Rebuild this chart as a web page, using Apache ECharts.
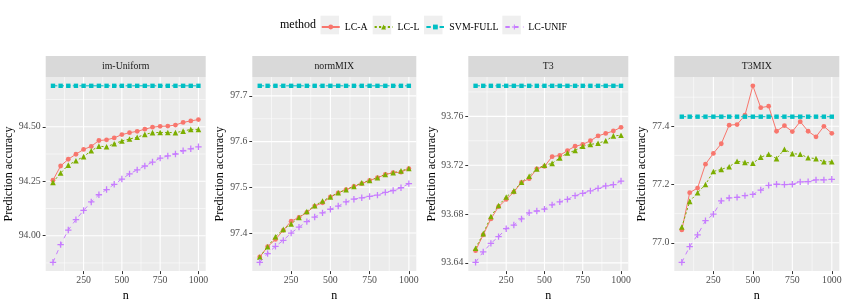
<!DOCTYPE html>
<html><head><meta charset="utf-8">
<script src="https://cdn.jsdelivr.net/npm/echarts@6/dist/echarts.min.js"></script>
<style>html,body{margin:0;padding:0;background:#fff}#c{width:845px;height:307px}</style>
</head><body><div id="c"></div>
<script>
// ---------- data ----------
const nValues = [50,100,150,200,250,300,350,400,450,500,550,600,650,700,750,800,850,900,950,1000];
const methods = ['LC-A','LC-L','SVM-FULL','LC-UNIF'];
const panelNames = ['im-Uniform','normMIX','T3','T3MIX'];

const imUniformLCA  = [94.255,94.320,94.351,94.374,94.396,94.410,94.437,94.440,94.449,94.464,94.473,94.479,94.489,94.498,94.502,94.503,94.508,94.520,94.527,94.533];
const imUniformLCL  = [94.245,94.288,94.324,94.344,94.363,94.390,94.411,94.408,94.422,94.435,94.444,94.452,94.465,94.473,94.474,94.474,94.473,94.480,94.488,94.488];
const imUniformSVM  = [94.688,94.688,94.688,94.688,94.688,94.688,94.688,94.688,94.688,94.688,94.688,94.688,94.688,94.688,94.688,94.688,94.688,94.688,94.688,94.688];
const imUniformUNIF = [93.878,93.959,94.026,94.074,94.116,94.155,94.188,94.212,94.236,94.260,94.284,94.302,94.320,94.338,94.356,94.366,94.375,94.390,94.399,94.408];

const normMIXLCA  = [97.3475,97.370,97.386,97.406,97.426,97.434,97.445,97.459,97.466,97.479,97.488,97.495,97.502,97.508,97.515,97.521,97.528,97.532,97.533,97.541];
const normMIXLCL  = [97.3475,97.370,97.392,97.408,97.420,97.434,97.447,97.460,97.470,97.479,97.488,97.495,97.502,97.510,97.515,97.521,97.528,97.532,97.536,97.541];
const normMIXSVM  = [97.722,97.722,97.722,97.722,97.722,97.722,97.722,97.722,97.722,97.722,97.722,97.722,97.722,97.722,97.722,97.722,97.722,97.722,97.722,97.722];
const normMIXUNIF = [97.336,97.355,97.371,97.384,97.400,97.413,97.425,97.435,97.444,97.452,97.459,97.468,97.474,97.477,97.480,97.483,97.489,97.493,97.499,97.508];

const T3LCA  = [93.650,93.663,93.676,93.686,93.692,93.698,93.706,93.709,93.717,93.719,93.727,93.728,93.732,93.7355,93.737,93.740,93.744,93.746,93.748,93.751];
const T3LCL  = [93.652,93.664,93.678,93.687,93.694,93.699,93.706,93.711,93.717,93.720,93.7215,93.726,93.730,93.732,93.7355,93.737,93.738,93.740,93.744,93.7445];
const T3SVM  = [93.785,93.785,93.785,93.785,93.785,93.785,93.785,93.785,93.785,93.785,93.785,93.785,93.785,93.785,93.785,93.785,93.785,93.785,93.785,93.785];
const T3UNIF = [93.6405,93.649,93.656,93.6615,93.668,93.671,93.676,93.681,93.6825,93.684,93.6875,93.690,93.692,93.695,93.697,93.699,93.701,93.703,93.704,93.707];

const T3MIXLCA  = [77.044,77.172,77.188,77.270,77.307,77.340,77.404,77.406,77.438,77.539,77.464,77.469,77.383,77.402,77.382,77.416,77.383,77.364,77.400,77.376];
const T3MIXLCL  = [77.054,77.142,77.172,77.200,77.245,77.252,77.261,77.280,77.276,77.273,77.294,77.304,77.289,77.321,77.306,77.304,77.292,77.289,77.278,77.278];
const T3MIXSVM  = [77.433,77.433,77.433,77.433,77.433,77.433,77.433,77.433,77.433,77.433,77.433,77.433,77.433,77.433,77.433,77.433,77.433,77.433,77.433,77.433];
const T3MIXUNIF = [76.933,76.987,77.027,77.076,77.098,77.144,77.154,77.156,77.162,77.166,77.181,77.197,77.201,77.200,77.201,77.209,77.210,77.216,77.216,77.218];

// tick labels / grid breaks
const xTicks = [250,500,750,1000];
const xMinor = [125,375,625,875];
const imUniformYTicks = [94.00,94.25,94.50];
const imUniformYMinor = [93.875,94.125,94.375,94.625];
const normMIXYTicks = [97.4,97.5,97.6,97.7];
const normMIXYMinor = [97.35,97.45,97.55,97.65];
const T3YTicks = [93.64,93.68,93.72,93.76];
const T3YMinor = [93.66,93.70,93.74,93.78];
const T3MIXYTicks = [77.0,77.2,77.4];
const T3MIXYMinor = [77.1,77.3,77.5];

// ---------- assembly ----------
const panelSeries = [
  [imUniformLCA, imUniformLCL, imUniformSVM, imUniformUNIF],
  [normMIXLCA, normMIXLCL, normMIXSVM, normMIXUNIF],
  [T3LCA, T3LCL, T3SVM, T3UNIF],
  [T3MIXLCA, T3MIXLCL, T3MIXSVM, T3MIXUNIF]
];
const panelYTicks = [imUniformYTicks, normMIXYTicks, T3YTicks, T3MIXYTicks];
const panelYMinor = [imUniformYMinor, normMIXYMinor, T3YMinor, T3MIXYMinor];
const panelDigits = [2,1,2,1];

// layout (pixels)
const FONT = 'Liberation Serif';
const gridLeft = [45.7, 252.3, 468.3, 674.3];
const gridWidth = [160, 164, 160, 165];
const gridTop = 77, gridHeight = 197.3;
const stripTop = 56, stripHeight = 21;
const nameGaps = [27, 21.5, 28, 23];

const colors = ['#F8766D','#7CAE00','#00BFC4','#C77CFF'];
const dashes = ['solid',[2.2,2.2],[4.4,2.2],[4.4,4.4]];
const plusPath = 'path://M4,0H6V4H10V6H6V10H4V6H0V4H4Z';
const symbols = ['circle','triangle','rect',plusPath];
const symbolSizes = [4.8,5.6,4.4,6.4];

function expand(arr){ const lo=Math.min(...arr), hi=Math.max(...arr), d=(hi-lo)*0.05; return [lo-d, hi+d]; }
// reference (grid) lines expressed in data units, separated by gaps
function hLines(vals, xr){ const out=[]; vals.forEach(v=>{out.push([xr[0],v],[xr[1],v],null);}); return out; }
function vLines(vals, yr){ const out=[]; vals.forEach(v=>{out.push([v,yr[0]],[v,yr[1]],null);}); return out; }

const grids=[], xAxes=[], yAxes=[], series=[], graphics=[];
const xr = expand(nValues);
for (let p=0;p<4;p++){
  grids.push({left:gridLeft[p], top:gridTop, width:gridWidth[p], height:gridHeight, show:true, backgroundColor:'#EBEBEB', borderWidth:0});
  const yr = expand([].concat(...panelSeries[p]));
  const d = panelDigits[p];
  xAxes.push({type:'value', gridIndex:p, min:xr[0], max:xr[1],
    name:'n', nameLocation:'middle', nameGap:15, nameTextStyle:{fontFamily:FONT,fontSize:12,color:'#000'},
    axisLine:{show:false}, splitLine:{show:false},
    axisTick:{show:true, customValues:xTicks, length:3, lineStyle:{color:'#333',width:1}},
    axisLabel:{customValues:xTicks, margin:4, fontFamily:FONT, fontSize:9.8, color:'#4D4D4D', formatter:v=>String(v)}});
  yAxes.push({type:'value', gridIndex:p, min:yr[0], max:yr[1],
    name:'Prediction accuracy', nameLocation:'middle', nameRotate:90, nameGap:nameGaps[p],
    nameTextStyle:{fontFamily:FONT,fontSize:12,color:'#000'},
    axisLine:{show:false}, splitLine:{show:false},
    axisTick:{show:true, customValues:panelYTicks[p], length:3, lineStyle:{color:'#333',width:1}},
    axisLabel:{customValues:panelYTicks[p], margin:5, fontFamily:FONT, fontSize:9.8, color:'#4D4D4D', formatter:v=>Number(v).toFixed(d)}});
  // panel grid lines
  const minorData = hLines(panelYMinor[p], xr).concat(vLines(xMinor, yr));
  const majorData = hLines(panelYTicks[p], xr).concat(vLines(xTicks, yr));
  [[minorData,0.55],[majorData,1.1]].forEach(([dat,w])=>{
    series.push({type:'line', xAxisIndex:p, yAxisIndex:p, z:1, silent:true, animation:false,
      data:dat, showSymbol:false, symbol:'none', connectNulls:false,
      lineStyle:{color:'#FFFFFF', width:w, type:'solid'}, emphasis:{disabled:true}, tooltip:{show:false}});
  });
  for (let m=0;m<4;m++){
    series.push({type:'line', name:methods[m], xAxisIndex:p, yAxisIndex:p, z:3,
      data: nValues.map((n,i)=>[n, panelSeries[p][m][i]]),
      symbol:symbols[m], symbolSize:symbolSizes[m], showSymbol:true,
      itemStyle:{color:colors[m], borderWidth:0},
      lineStyle:{color:colors[m], width:1, type:dashes[m]},
      emphasis:{disabled:true}, animation:false});
  }
  graphics.push({type:'rect', shape:{x:gridLeft[p], y:stripTop, width:gridWidth[p], height:stripHeight}, style:{fill:'#D9D9D9'}, silent:true});
  graphics.push({type:'text', x:gridLeft[p]+gridWidth[p]/2, y:stripTop+stripHeight/2,
    style:{text:panelNames[p], fontFamily:FONT, fontSize:9.8, fill:'#1A1A1A', align:'center', verticalAlign:'middle'}, silent:true});
}
// legend title & key backgrounds
graphics.push({type:'text', x:280, y:25, style:{text:'method', fontFamily:FONT, fontSize:12, fill:'#000', align:'left', verticalAlign:'middle'}});
const keyX = [320.5, 372.7, 424, 502.3];
keyX.forEach(x=>graphics.push({type:'rect', shape:{x:x, y:15.7, width:18.5, height:18.6}, style:{fill:'#EFEFEF'}, silent:true}));

const chart = echarts.init(document.getElementById('c'), null, {renderer:'canvas'});
chart.setOption({
  animation:false,
  backgroundColor:'#FFFFFF',
  grid:grids, xAxis:xAxes, yAxis:yAxes, series:series,
  legend:{data:methods, left:320.75, top:22, padding:0, itemWidth:18, itemHeight:6, itemGap:6, selectedMode:false, z:10,
    textStyle:{fontFamily:FONT, fontSize:9.8, color:'#000'}},
  graphic:graphics
});
</script></body></html>
